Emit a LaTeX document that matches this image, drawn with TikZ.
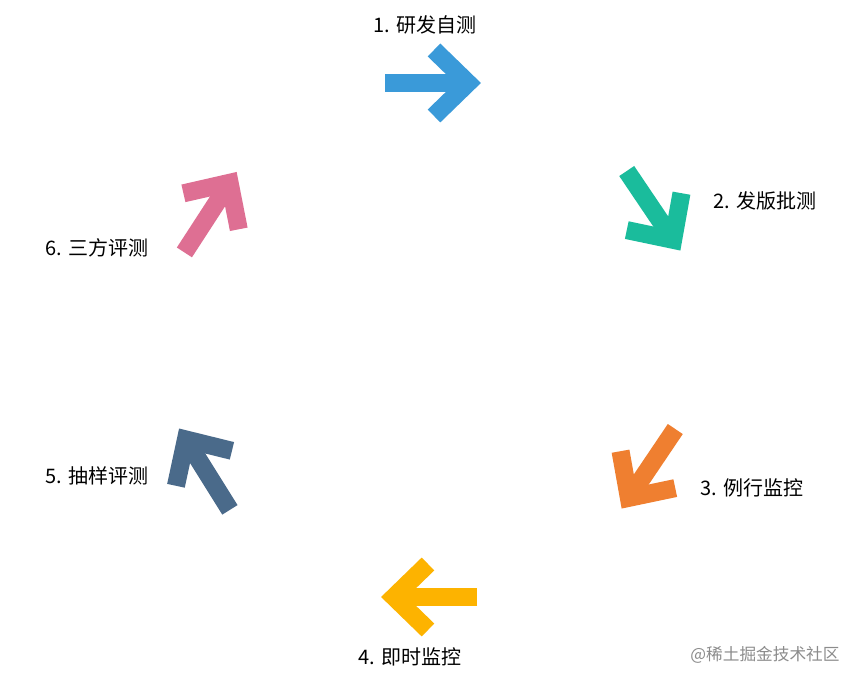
\documentclass[tikz,border=0pt]{standalone}
\usepackage{fontspec}
\newfontfamily\cjk{Noto Sans CJK SC}
\definecolor{cA}{HTML}{3A9AD9}
\definecolor{cB}{HTML}{1ABC9C}
\definecolor{cC}{HTML}{EF7F30}
\definecolor{cD}{HTML}{FDB300}
\definecolor{cE}{HTML}{4A6A8A}
\definecolor{cF}{HTML}{DE6F93}
\tikzset{
 arrowshape/.style={line width=13.5pt,miter limit=10,line join=miter},
 lab/.style={font=\cjk\fontsize{15}{18}\selectfont,text=black,inner sep=0pt},
 wm/.style={font=\cjk\fontsize{12.5}{15}\selectfont,text=black!45,inner sep=0pt}
}
\newcommand{\bigarrow}[4]{%
 \begin{scope}[shift={(#1,#2)},rotate=#3]
  \draw[arrowshape,#4] (-47,0) -- (36,0);
  \draw[arrowshape,#4] (2,33) -- (36,0) -- (2,-33);
 \end{scope}}
\begin{document}
\begin{tikzpicture}[x=0.75pt,y=0.75pt]
\fill[white] (0,0) rectangle (866,685);
\useasboundingbox (0,0) rectangle (866,685);
\bigarrow{432}{602}{0}{cA}
\bigarrow{653}{475}{-56}{cB}
\bigarrow{649}{217}{-124}{cC}
\bigarrow{430}{88}{180}{cD}
\bigarrow{205}{215}{122}{cE}
\bigarrow{210}{472}{57}{cF}
\node[lab] (l1) at (425,660) {1. 研发自测};
\node[lab] (l2) at (765,484) {2. 发版批测};
\node[lab] (l3) at (752,197) {3. 例行监控};
\node[lab] (l4) at (410,28) {4. 即时监控};
\node[lab] (l5) at (97,209) {5. 抽样评测};
\node[lab] (l6) at (97,437) {6. 三方评测};
\node[wm] (w) at (765,30) {@稀土掘金技术社区};
\end{tikzpicture}
\end{document}
